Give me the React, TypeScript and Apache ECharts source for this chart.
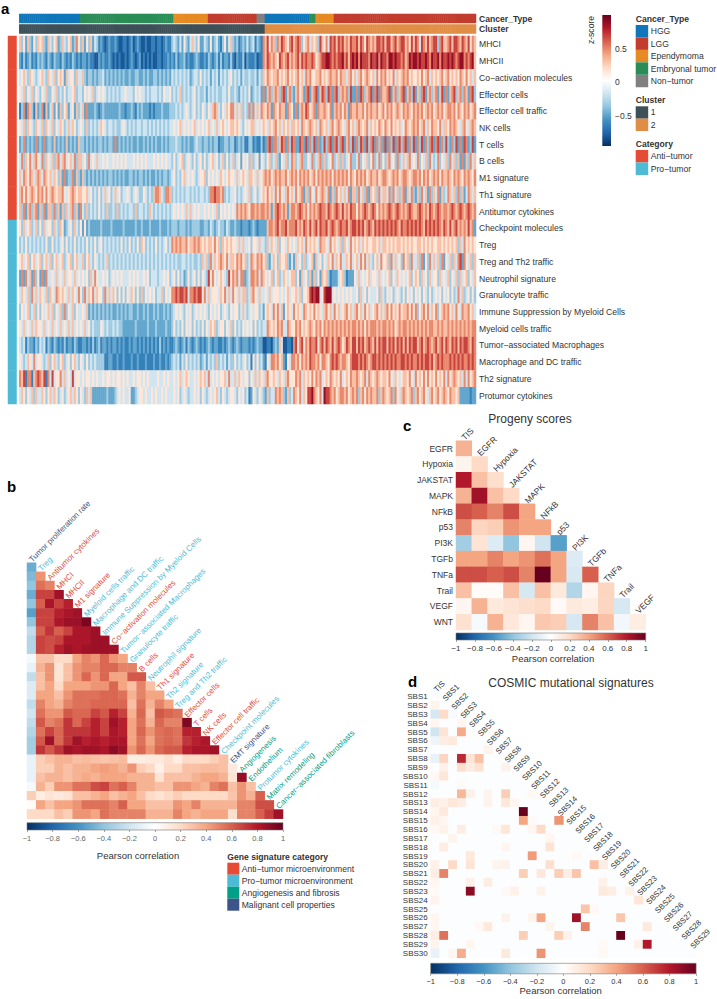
import React, { useEffect, useRef } from "react";
import * as echarts from "echarts";

const FONT = '"Liberation Sans", Arial, sans-serif';
const RDBU = ["#053061", "#2166AC", "#4393C3", "#92C5DE", "#D1E5F0", "#FFFFFF", "#FDDBC7", "#F4A582", "#D6604D", "#B2182B", "#67001F"];
const ANTI = "#E64B35", PRO = "#4DBBD5", ANGIO = "#00A087", MALIG = "#3C5488";

// ---- Panel a ----
const rowNamesA = ["MHCI", "MHCII", "Co−activation molecules", "Effector cells", "Effector cell traffic", "NK cells", "T cells", "B cells", "M1 signature", "Th1 signature", "Antitumor cytokines", "Checkpoint molecules", "Treg", "Treg and Th2 traffic", "Neutrophil signature", "Granulocyte traffic", "Immune Suppression by Myeloid Cells", "Myeloid cells traffic", "Tumor−associated Macrophages", "Macrophage and DC traffic", "Th2 signature", "Protumor cytokines"];
// z-score of each digit level used in rowsA
const levelsA = [-0.85, -0.68, -0.52, -0.36, -0.2, 0.14, 0.3, 0.48, 0.68, 0.88];
// digit levels per sample column, 0 = deepest blue ... 9 = deepest red, estimated by eye
const rowsA = [
  "635263253656326 435623643562375 362536243121012 112100110120121 001001101101211 343242532464352 243252342135246 323123242341321 768576376876578 678735674656386 574878687867687 786875876768878 688678678867586 874876867883786 678688768768576",
  "213123121323213 213221321213212 122121100212112 101010010121012 010101001101121 213122312112321 121321231312213 102113021112011 768767658767867 678687877875678 899878788978689 897988879889798 879989887867989 989889879889798 898987899787896",
  "456436543456436 546356526455364 463233232334232 323232322322332 232322332323232 434343434234435 343424342434345 343424334334243 657656675656756 567564767556675 656766757664675 646756765647576 756574656767565 565756746565675 675656576575646",
  "546354635435463 354634353445634 435454634545434 343434454443545 443434443435445 343463434345343 342434343344353 343243435234342 726736763782673 267562782678268 738727836767382 272873678278276 678267367826738 263782673672682 726783673762783",
  "137176316237162 462526356245263 462722232123222 222232212232132 322212122232223 334343454345343 543546764354657 746463437374647 657627657662765 272676875672766 765726767576276 676675767667567 576756765767657 676756767567675 677675765767567",
  "546365436546365 463546534646534 543634343465434 434334543434344 344343434343434 454564545456454 545645464565456 656543545664545 654656756465646 656476567656476 564675676546756 467656746565765 765756564576567 675674657665746 657676546754676",
  "237232327232723 326232326232326 332323232332323 327232323232232 232323232232323 334332323223433 233232331223323 312323113312113 127827736872738 722872827382723 837827837826738 273872837827372 827382783782738 273827378278273 832738272872382",
  "473657467547365 463674674564736 645374546445454 454545454445454 545444545454544 353456345435345 353456453463534 634525453634525 435634632546347 634673354734673 634573463634573 347354635734735 367453734646745 473546374347354 637463627263746",
  "647657646764765 646536272337263 263232323232323 323232322332323 323232232323323 453435645454345 563545454654565 546456546654645 676756767667567 675767675675767 676757676767576 576767567667567 765676756776567 767576756767576 676576765767657",
  "675756765767575 676566754567656 655645343534645 346453445434543 354343677643776 343434344343434 434377877673434 453434546345345 657564757546756 475672637547567 647263756464726 637463726563746 647374636726473 263746273647263 476463736247646",
  "637267367263726 637362636467362 743634343534363 343634343443634 434364343434343 454545464645454 454545463545454 547676765776767 767626787676267 767876757676787 768767876867687 757678767875767 678767876767876 678767687678767 767876787678767",
  "536456346353645 536436523453643 525232222232222 322222322222322 322232222322232 333233323233332 233243234332432 232212221232122 226776786778677 786768768678687 786787678778678 878786787687878 787878768778787 878768787878768 768678676768672",
  "343534343434353 353434535343534 343534353453434 343435343534353 653434353434534 767676675667676 565665756365656 554646445355464 436465463554654 546564756565476 654756546365475 656465655665646 656565665656565 566565656556656 565656364756565",
  "564563564563564 635645634563564 463564354343463 434343434343434 343434343434343 434334434343343 646374656765746 657675634765767 563246536556324 264536345626453 546574657446574 564757464356475 563746453756374 463725374646372 546364782754636",
  "272746273527274 454645464554645 454536475445453 454545444545454 454534443445453 453534235345353 543857545654385 767477234776747 654563563465456 635264536263526 563122245631222 546454564554645 456354654545635 653645364553645 463546364563546",
  "465463746465463 654765654646547 537465746553746 465353535465353 635454534463545 778788784778788 574645554657464 754646634675464 454645554545645 564635568989945 899945454545454 453645354445364 354534543535453 545354353454535 453534746345353",
  "354563463535456 463546373546354 454623232323232 322323232332232 232322323223232 345454354534545 454354545345435 455346434545534 256547574625654 756547656575654 675647564567564 675647564567564 675756575667575 735675746573567 675647547667564",
  "546454646554645 464546454646454 546453433354343 343433222222322 222322232222322 353435354535343 535465634553546 353435454535343 447656576744765 576756567657675 767676767676767 767675767776767 767675676776767 676767677667676 676767676767677",
  "434132213243413 213212131221321 122121312312212 122121211212212 121212121312121 123212313212321 212321221121232 123212221212322 001102326400110 785785768778578 687686787568768 868786787686878 868786878686878 867867876786786 876878687887687",
  "543465474554346 356435634535643 543534343333112 211211211121121 112111211211212 343424353434342 342434363434243 353434534153534 215477675621547 767576768776757 765787876776578 887878767887878 787878778878787 787878878678787 778787878778787",
  "768177167876817 484557464548455 454554545445455 454554545445455 454544445445454 454564565445456 564745454556474 464654553546465 467556546546755 576746565757674 565765657456576 676567476567656 657546545665754 756575756575657 475676564747567",
  "465354636446535 646534534564653 543646222222232 223454544522345 545445454454544 454534543445453 543454564354345 543545341254354 326344767632634 765746588976574 988767567767567 673675767667367 656737546765673 675675467567567 657665622222122",
];
const cancerRuns: [string, number][] = [["HGG", 30], ["Embryonal tumor", 46], ["Ependymoma", 17], ["LGG", 24], ["Non−tumor", 4], ["HGG", 22], ["Embryonal tumor", 3], ["Ependymoma", 9], ["LGG", 70]];
const clusterRuns: [string, number][] = [["1", 121], ["2", 104]];
const categoryRuns: [string, number][] = [["Anti−tumor", 11], ["Pro−tumor", 11]];
const cancerLegend: [string, string][] = [["HGG", "#0F76BA"], ["LGG", "#C23D2D"], ["Ependymoma", "#E68A24"], ["Embryonal tumor", "#2A8C56"], ["Non−tumor", "#808080"]];
const clusterLegend: [string, string][] = [["1", "#3D5058"], ["2", "#E08E45"]];
const categoryLegend: [string, string][] = [["Anti−tumor", ANTI], ["Pro−tumor", PRO]];

// ---- Panel b ----
const labelsB: [string, string][] = [
  ["Tumor proliferation rate", MALIG], ["Treg", PRO], ["Antitumor cytokines", ANTI], ["MHCI", ANTI], ["MHCII", ANTI], ["M1 signature", ANTI], ["Myeloid cells traffic", PRO], ["Macrophage and DC traffic", PRO], ["Immune Suppression by Myeloid Cells", PRO], ["Co−activation molecules", ANTI], ["Tumor−associated Macrophages", PRO], ["Granulocyte traffic", PRO], ["B cells", ANTI], ["Neutrophil signature", PRO], ["Th1 signature", ANTI], ["Th2 signature", PRO], ["Treg and Th2 traffic", PRO], ["Effector cells", ANTI], ["T cells", ANTI], ["NK cells", ANTI], ["Effector cell traffic", ANTI], ["Checkpoint molecules", PRO], ["EMT signature", MALIG], ["Angiogenesis", ANGIO], ["Endothelium", ANGIO], ["Protumor cytokines", PRO], ["Matrix remodeling", ANGIO], ["Cancer−associated fibroblasts", ANGIO],
];
const corrB: number[][] = [
  [-.5],
  [-.45, .45],
  [-.4, .55, .5],
  [-.5, .68, .68, .85],
  [-.4, .6, .82, .68, .78],
  [-.55, .68, .68, .78, .82, .85],
  [-.4, .68, .68, .82, .86, .86, .95],
  [-.25, .6, .72, .6, .68, .82, .82, .86],
  [-.3, .68, .65, .68, .82, .82, .82, .86, .86],
  [-.3, .68, .65, .78, .85, .82, .85, .86, .86, .86],
  [-.05, .3, .3, .2, .2, .4, .5, .45, .58, .45, .4],
  [-.1, .35, .45, .15, .3, .45, .5, .5, .58, .58, .5, .5],
  [-.25, .3, .45, .15, .3, .45, .58, .45, .58, .4, .4, .62, .62],
  [-.15, .3, .4, .2, .4, .4, .4, .45, .45, .58, .4, .3, .5, .3],
  [-.15, .4, .4, .3, .45, .55, .55, .55, .58, .58, .55, .35, .5, .4, .4],
  [-.25, .5, .4, .35, .5, .55, .55, .58, .58, .58, .58, .3, .55, .35, .5, .4],
  [-.2, .55, .45, .45, .62, .58, .58, .68, .62, .78, .68, .35, .58, .3, .62, .58, .55],
  [-.25, .62, .5, .55, .72, .58, .68, .78, .68, .85, .78, .4, .55, .35, .58, .5, .5, .93],
  [-.3, .55, .68, .58, .72, .72, .72, .78, .68, .82, .78, .4, .58, .45, .55, .58, .55, .78, .78],
  [-.35, .62, .85, .58, .72, .85, .78, .82, .78, .82, .82, .4, .55, .4, .55, .58, .55, .72, .78, .82],
  [-.35, .72, .62, .72, .85, .82, .85, .85, .82, .9, .85, .45, .58, .45, .58, .62, .62, .78, .82, .82, .85],
  [-.1, .25, .3, .35, .35, .3, .32, .3, .28, .3, .32, .1, .1, .12, .12, .18, .1, .2, .2, .2, .25, .3],
  [-.1, .25, .25, .35, .3, .35, .35, .4, .42, .4, .35, .45, .25, .2, .08, .2, .2, .3, .3, .32, .32, .3, .12],
  [-.1, .3, .35, .35, .3, .35, .38, .35, .4, .4, .4, .35, .35, .35, .15, .3, .3, .3, .35, .4, .4, .35, .15, .88],
  [-.05, .35, .25, .45, .45, .55, .55, .65, .68, .55, .6, .5, .35, .35, .3, .3, .45, .45, .4, .35, .5, .55, .3, .45, .3],
  [.25, .1, .15, .12, .15, .3, .3, .35, .4, .3, .35, .4, .3, .2, .15, .2, .25, .2, .2, .2, .2, .2, .28, .45, .35, .6],
  [.02, .4, .3, .4, .4, .45, .55, .55, .55, .5, .6, .4, .4, .3, .3, .3, .45, .4, .5, .35, .35, .35, .35, .5, .5, .65, .65],
  [.2, .2, .2, .3, .25, .45, .45, .4, .55, .5, .5, .5, .5, .35, .35, .35, .5, .4, .35, .4, .4, .4, .18, .5, .5, .6, .7, .85],
];
const legendB: [string, string][] = [["Anti−tumor microenvironment", ANTI], ["Pro−tumor microenvironment", PRO], ["Angiogenesis and fibrosis", ANGIO], ["Malignant cell properties", MALIG]];

// ---- Panel c ----
const colsC = ["TIS", "EGFR", "Hypoxia", "JAKSTAT", "MAPK", "NFkB", "p53", "PI3K", "TGFb", "TNFa", "Trail", "VEGF"];
const rowsC = ["EGFR", "Hypoxia", "JAKSTAT", "MAPK", "NFkB", "p53", "PI3K", "TGFb", "TNFa", "Trail", "VEGF", "WNT"];
const corrC: number[][] = [
  [.35],
  [.06, .2],
  [.8, .3, .18],
  [.35, .85, .3, .2],
  [.65, .6, .5, .65, .4],
  [.5, .22, .25, .45, .4, .4],
  [-.35, .15, -.15, -.4, .05, -.2, -.55],
  [.4, .4, .5, .4, .45, .55, .4, -.15],
  [.65, .65, .6, .65, .5, 1, .4, -.17, .6],
  [.3, .02, .02, .3, -.18, .3, .12, -.3, .05, .22],
  [.05, .35, .12, .15, .18, .2, .03, .12, .1, .22, -.18],
  [.16, -.04, .35, .13, .05, .27, .25, -.18, .5, .3, -.06, .1],
];

// ---- Panel d ----
const colsD = ["TIS", "SBS1", "SBS2", "SBS3", "SBS4", "SBS5", "SBS6", "SBS7", "SBS8", "SBS9", "SBS10", "SBS11", "SBS12", "SBS13", "SBS14", "SBS15", "SBS16", "SBS17", "SBS18", "SBS19", "SBS20", "SBS21", "SBS22", "SBS23", "SBS24", "SBS25", "SBS26", "SBS27", "SBS28", "SBS29"];
const rowsD = ["SBS1", "SBS2", "SBS3", "SBS4", "SBS5", "SBS6", "SBS7", "SBS8", "SBS9", "SBS10", "SBS11", "SBS12", "SBS13", "SBS14", "SBS15", "SBS16", "SBS17", "SBS18", "SBS19", "SBS20", "SBS21", "SBS22", "SBS23", "SBS24", "SBS25", "SBS26", "SBS27", "SBS28", "SBS29", "SBS30"];
const backgroundD = -0.015;
// [row number of SBS label, column index, correlation]: every other cell of the triangle is close to zero
const cellsD: [number, number, number][] = [
  [2, 0, .06],
  [3, 0, -.18], [3, 1, .2], [3, 2, -.03],
  [4, 0, .05], [4, 3, .05],
  [5, 0, -.2], [5, 1, .15], [5, 3, .38],
  [6, 0, -.08], [6, 1, .1], [6, 2, .12],
  [7, 6, .06],
  [8, 0, -.1], [8, 1, .22], [8, 3, .75], [8, 4, .15], [8, 5, .3],
  [9, 1, .08], [9, 3, .18], [9, 4, .1], [9, 5, .16], [9, 8, .07],
  [10, 0, .04], [10, 1, .14],
  [11, 0, -.05], [11, 3, .03],
  [12, 3, .33], [12, 4, .08], [12, 6, .06], [12, 8, .25], [12, 11, .04],
  [13, 0, .1], [13, 1, .08], [13, 2, .14], [13, 3, .1], [13, 6, .06], [13, 8, .13], [13, 9, .05],
  [14, 0, .05], [14, 1, .12], [14, 10, 1],
  [15, 0, .08], [15, 1, .05], [15, 10, .4], [15, 11, .03], [15, 14, .45],
  [16, 0, .04], [16, 1, .07], [16, 3, .1], [16, 7, .04], [16, 8, .14], [16, 11, .05], [16, 12, .2],
  [17, 2, .06], [17, 13, .05],
  [18, 1, .1], [18, 8, .05], [18, 13, .15],
  [19, 4, .12], [19, 11, .43], [19, 16, .04],
  [20, 0, .08], [20, 2, .2], [20, 4, .15], [20, 7, .06], [20, 8, .07], [20, 13, .17], [20, 18, .3], [20, 19, .1],
  [21, 0, .1], [21, 1, .5], [21, 10, .25], [21, 12, .13], [21, 14, .25], [21, 15, .1], [21, 16, .28],
  [22, 0, .05], [22, 4, .08], [22, 6, .1], [22, 19, .08],
  [23, 0, .03], [23, 4, .9], [23, 8, .04], [23, 9, .08], [23, 12, .07], [23, 19, .12], [23, 20, .1], [23, 22, .07],
  [24, 0, .06], [24, 23, .14],
  [25, 17, .28], [25, 18, .04],
  [26, 0, .05], [26, 8, .07], [26, 11, .06], [26, 12, .4], [26, 16, .85], [26, 21, .28],
  [27, 0, .05], [27, 5, .04], [27, 6, .12], [27, 13, .06], [27, 17, .5], [27, 24, .12],
  [28, 0, .1], [28, 1, .55], [28, 10, .25], [28, 14, .25], [28, 15, .08], [28, 21, 1],
  [29, 0, .06], [29, 4, .05], [29, 19, .03], [29, 23, .08], [29, 24, .8],
  [30, 0, -.1], [30, 2, .05], [30, 3, .37], [30, 8, .12], [30, 12, .45], [30, 19, .04],
];
const ticksNote = "Pearson correlation";

function buildOption() {
  const grids: any[] = [], xAxes: any[] = [], yAxes: any[] = [], series: any[] = [], g: any[] = [], maps: any[] = [];
  const stopsH = RDBU.map((c, i) => ({ offset: i / (RDBU.length - 1), color: c }));

  const text = (t: string, x: number, y: number, o: any = {}) => g.push({
    type: "text", x, y, rotation: o.rotation || 0, silent: true,
    style: { text: t, fill: o.fill || "#333", font: `${o.weight || "normal"} ${o.size || 8.6}px ${FONT}`, align: o.align || "left", verticalAlign: "middle" },
  });
  const rect = (x: number, y: number, w: number, h: number, fill: string) => g.push({ type: "rect", silent: true, shape: { x, y, width: w, height: h }, style: { fill } });

  const addGrid = (left: number, top: number, width: number, height: number, extra: any = {}) => {
    grids.push({ left, top, width, height, containLabel: false, ...extra });
    return grids.length - 1;
  };
  const catX = (gridIndex: number, n: number) => xAxes.push({ type: "category", gridIndex, show: false, data: Array.from({ length: n }, (_, i) => i) });
  const catY = (gridIndex: number, names: string[] | null, n: number, pos = "left", size = 8, margin = 3) => yAxes.push({
    type: "category", gridIndex, inverse: true, position: pos, show: !!names,
    data: names || Array.from({ length: n }, (_, i) => i),
    axisLine: { show: false }, axisTick: { show: false }, splitLine: { show: false },
    axisLabel: { show: !!names, interval: 0, margin, color: "#333", fontSize: size, fontFamily: FONT },
  });
  const heat = (gridIndex: number, data: any[]) => {
    series.push({ type: "heatmap", xAxisIndex: gridIndex, yAxisIndex: gridIndex, data, progressive: 0, emphasis: { disabled: true }, itemStyle: { borderWidth: 0 } });
    return series.length - 1;
  };
  const fmt = (v: number) => { const r = +v.toFixed(1); return r === 0 ? "0" : (r < 0 ? "−" : "") + Math.abs(r); };
  const colorbar = (left: number, top: number, width: number, height: number, size: number, color: string) => {
    const i = addGrid(left, top, width, height, { show: true, borderColor: "#777", borderWidth: 0.6, backgroundColor: new echarts.graphic.LinearGradient(0, 0, 1, 0, stopsH) });
    xAxes.push({
      type: "value", gridIndex: i, min: -1, max: 1, interval: 0.2, position: "bottom",
      axisLine: { show: false }, splitLine: { show: false },
      axisTick: { show: true, length: 2, lineStyle: { color: "#666", width: 0.6 } },
      axisLabel: { formatter: fmt, fontSize: size, color, fontFamily: FONT, margin: 4, showMinLabel: true, showMaxLabel: true },
    });
    yAxes.push({ type: "category", gridIndex: i, show: false, data: [0] });
  };
  const annotation = (gridIndex: number, runs: [string, number][], colors: [string, string][], vertical: boolean) => {
    const names = colors.map((c) => c[0]);
    const data: number[][] = [];
    let pos = 0;
    runs.forEach(([name, n]) => {
      for (let i = 0; i < n; i++, pos++) data.push(vertical ? [0, pos, names.indexOf(name)] : [pos, 0, names.indexOf(name)]);
    });
    const idx = heat(gridIndex, data);
    maps.push({ type: "piecewise", show: false, dimension: 2, seriesIndex: idx, pieces: colors.map((c, i) => ({ value: i, color: c[1] })) });
  };
  const triangle = (gridIndex: number, m: number[][]) => {
    const data: number[][] = [];
    m.forEach((row, r) => row.forEach((v, c) => data.push([c, r, v])));
    return heat(gridIndex, data);
  };
  const mapped: number[] = [];

  // ---- a ----
  const N = 225, LA = 19.3, WA = 456.7;
  const g1 = addGrid(LA, 14, WA, 9); catX(g1, N); catY(g1, null, 1); annotation(g1, cancerRuns, cancerLegend, false);
  const g2 = addGrid(LA, 24.5, WA, 9); catX(g2, N); catY(g2, null, 1); annotation(g2, clusterRuns, clusterLegend, false);
  const g3 = addGrid(8, 36, 8.5, 368); catX(g3, 1); catY(g3, null, 22); annotation(g3, categoryRuns, categoryLegend, true);
  const g4 = addGrid(LA, 36, WA, 368); catX(g4, N); catY(g4, rowNamesA, 22, "right", 8.6, 3);
  const dataA: number[][] = [];
  rowsA.forEach((s, r) => s.replace(/ /g, "").padEnd(N, "4").slice(0, N).split("").forEach((ch, c) => dataA.push([c, r, levelsA[Number(ch)]])));
  mapped.push(heat(g4, dataA));

  // a colour bar
  const gb = addGrid(602.3, 15, 8.7, 131, { show: true, borderWidth: 0, backgroundColor: new echarts.graphic.LinearGradient(0, 1, 0, 0, stopsH) });
  xAxes.push({ type: "category", gridIndex: gb, show: false, data: [0] });
  yAxes.push({
    type: "value", gridIndex: gb, min: -0.955, max: 1, position: "right",
    axisLine: { show: false }, splitLine: { show: false }, axisTick: { show: false },
    axisLabel: { customValues: [-0.5, 0, 0.5], formatter: fmt, fontSize: 8.5, color: "#333", fontFamily: FONT, margin: 4, align: "left" },
  });

  text("Cancer_Type", 479, 18.7, { weight: "bold" });
  text("Cluster", 479, 29, { weight: "bold" });
  text("z-score", 591, 30, { rotation: Math.PI / 2, align: "center" });
  const legendBlock = (title: string, items: [string, string][], titleY: number, topY: number, step: number) => {
    text(title, 635.7, titleY, { weight: "bold" });
    items.forEach(([n, c], i) => { rect(635.7, topY + i * step, 12.5, step, c); text(n, 650.7, topY + (i + 0.5) * step, {}); });
  };
  legendBlock("Cancer_Type", cancerLegend, 18.7, 25, 12.45);
  legendBlock("Cluster", clusterLegend, 100, 106.3, 12.35);
  legendBlock("Category", categoryLegend, 144, 150, 12.5);

  // ---- b ----
  const LB = 27, TB = 562.7, SB = 256;
  const gB = addGrid(LB, TB, SB, SB); catX(gB, 28); catY(gB, null, 28);
  mapped.push(triangle(gB, corrB));
  const cb = SB / 28;
  labelsB.forEach(([n, c], j) => text(n, LB + (j + 0.5) * cb - 1, TB + j * cb - 2, { rotation: Math.PI / 4, fill: c, size: 8 }));
  colorbar(LB, 822.7, SB, 7.3, 7.5, "#666");
  text(ticksNote, 138, 855, { size: 9.5, align: "center" });
  text("Gene signature category", 227.3, 857.3, { weight: "bold" });
  legendB.forEach(([n, c], i) => { rect(227.3, 862.7 + i * 12, 12, 12, c); text(n, 241.7, 868.9 + i * 12, {}); });

  // ---- c ----
  const LC = 456, TC = 440.7, WC = 189.7, HC = 189.3;
  const gC = addGrid(LC, TC, WC, HC); catX(gC, 12); catY(gC, rowsC, 12, "left", 8.5, 3);
  mapped.push(triangle(gC, corrC));
  colsC.forEach((n, j) => text(n, LC + (j + 0.5) * (WC / 12) - 1, TC + j * (HC / 12) - 2, { rotation: Math.PI / 4, size: 8.5 }));
  colorbar(LC, 633, WC, 7, 8, "#333");
  text("Progeny scores", 530, 419, { size: 12, align: "center" });
  text(ticksNote, 553, 658, { size: 9.5, align: "center" });

  // ---- d ----
  const LD = 430.7, TD = 692.3, WD = 265.4, HD = 265.5;
  const gD = addGrid(LD, TD, WD, HD); catX(gD, 30); catY(gD, rowsD, 30, "left", 8, 3);
  const lookupD = new Map(cellsD.map(([r, c, v]) => [`${r}-${c}`, v]));
  const dataD: number[][] = [];
  rowsD.forEach((_, r) => { for (let c = 0; c <= r; c++) dataD.push([c, r, lookupD.get(`${r + 1}-${c}`) ?? backgroundD]); });
  mapped.push(heat(gD, dataD));
  colsD.forEach((n, j) => text(n, LD + (j + 0.5) * (WD / 30), TD + j * (HD / 30) - 1.5, { rotation: Math.PI / 4, size: 7.8 }));
  colorbar(LD, 963.3, WD, 10.5, 7.5, "#333");
  text("COSMIC mutational signatures", 571, 683, { size: 12, align: "center" });
  text(ticksNote, 560.7, 990.7, { size: 9.5, align: "center" });

  // panel letters
  text("a", 1, 8, { size: 15, weight: "bold", fill: "#000" });
  text("b", 7, 486.5, { size: 15, weight: "bold", fill: "#000" });
  text("c", 403, 425, { size: 15, weight: "bold", fill: "#000" });
  text("d", 408, 681, { size: 15, weight: "bold", fill: "#000" });

  maps.push({ type: "continuous", show: false, min: -1, max: 1, dimension: 2, seriesIndex: mapped, inRange: { color: RDBU } });

  return {
    animation: false,
    backgroundColor: "#fff",
    textStyle: { fontFamily: FONT },
    tooltip: { show: false },
    grid: grids, xAxis: xAxes, yAxis: yAxes, series,
    visualMap: maps,
    graphic: { elements: g },
  };
}

export default function App() {
  const ref = useRef<HTMLDivElement>(null);
  useEffect(() => {
    const chart = echarts.init(ref.current!, undefined, { renderer: "svg" });
    chart.setOption(buildOption() as any);
    return () => chart.dispose();
  }, []);
  return <div ref={ref} style={{ position: "absolute", left: 0, top: 0, width: 717, height: 999 }} />;
}
